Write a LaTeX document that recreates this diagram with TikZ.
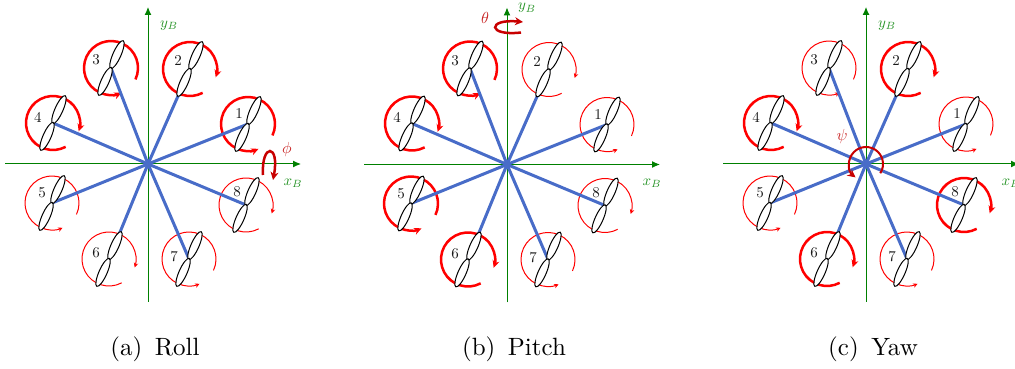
\documentclass[tikz,border=0pt]{standalone}
\usetikzlibrary{arrows.meta,shapes.geometric}
\definecolor{armblue}{RGB}{72,108,200}
\definecolor{axgreen}{RGB}{0,128,0}
\definecolor{darkred}{RGB}{200,0,0}
\tikzset{
  x=1pt,y=1pt,
  axisline/.style={axgreen,line width=1pt,-{Latex[length=8pt,width=7pt]}},
  axlab/.style={text=axgreen!85!white,scale=1.5,inner sep=0pt},
  arm/.style={armblue,line width=3pt},
  blade/.style={draw=black,fill=white,ellipse,line width=1pt,outer sep=0pt,minimum width=30.5pt,minimum height=8pt,inner sep=0pt,rotate=66},
  num/.style={scale=1.5,inner sep=0pt,text=black!90},
  tk/.style={red,line width=2.5pt,-{Stealth[length=7.5pt,width=7pt]}},
  tn/.style={red,line width=1pt,-{Stealth[length=4.5pt,width=4.5pt]}},
  ann/.style={darkred,line width=2.5pt,-{Stealth[length=8pt,width=8pt]}},
  annlab/.style={text=red!75!black,opacity=.85,scale=1.6,inner sep=0pt},
  captionlab/.style={scale=2.5,inner sep=0pt},
}
\newcommand{\rotorarc}[7]{%
  \coordinate (#1h#2) at (#3,#4);
  \ifnum#6=0
    \draw[#7] (#1h#2) ++(-25:27) arc[start angle=-25,end angle=-67+360,radius=27];
  \else
    \draw[#7] (#1h#2) ++(-62:27) arc[start angle=-62,end angle=-378,radius=27];
  \fi
  \draw[arm] (#1c) -- (#1h#2);
}
\newcommand{\rotorblade}[4]{%
  \node[blade,anchor=west] (#1u#2) at ([shift={(66:-0.6)}]#1h#2) {};
  \node[blade,anchor=east] (#1d#2) at ([shift={(66:0.6)}]#1h#2) {};
  \node[num] (#1n#2) at ([shift={(#3,#4)}]#1h#2) {#2};
}
\newcommand{\fullpanel}[9]{%
  \coordinate (#1c) at (0,0);
  \coordinate (#1l) at (-143,0);
  \coordinate (#1r) at (153,0);
  \coordinate (#1b) at (0,-138);
  \coordinate (#1t) at (0,157);
  \draw[axisline] (#1l) -- (#1r);
  \draw[axisline] (#1b) -- (#1t);
  \rotorarc{#1}{1}{100}{40}{0}{0}{#2}
  \rotorarc{#1}{2}{42}{95}{0}{1}{#3}
  \rotorarc{#1}{3}{-37}{96}{0}{0}{#4}
  \rotorarc{#1}{4}{-95}{41}{0}{1}{#5}
  \rotorarc{#1}{5}{-96}{-39}{0}{0}{#6}
  \rotorarc{#1}{6}{-39}{-95}{0}{1}{#7}
  \rotorarc{#1}{7}{41}{-95}{0}{0}{#8}
  \rotorarc{#1}{8}{98}{-41}{0}{1}{#9}
  \rotorblade{#1}{1}{-9}{10}
  \rotorblade{#1}{2}{-12}{8}
  \rotorblade{#1}{3}{-15}{8}
  \rotorblade{#1}{4}{-15}{6}
  \rotorblade{#1}{5}{-10}{10}
  \rotorblade{#1}{6}{-13}{6}
  \rotorblade{#1}{7}{-15}{2}
  \rotorblade{#1}{8}{-9}{13}
}
\begin{document}
\begin{tikzpicture}
\useasboundingbox (0,0) rectangle (1015,369);
\clip (0,0) rectangle (1015,369);
% Roll
\begin{scope}[shift={(148,205)}]
  \fullpanel{a}{tk}{tk}{tk}{tk}{tn}{tn}{tn}{tn}
  \node[axlab] (aylab) at (21,138.5) {$y_B$};
  \node[axlab] (axlab) at (145,-19) {$x_B$};
  \coordinate (aphis) at (115,-11);
  \coordinate (aphie) at (125,-16);
  \draw[ann] (aphis) .. controls (113,21) and (132,21) .. (aphie);
  \node[annlab] (aphi) at (139,14) {$\phi$};
\end{scope}
% Pitch
\begin{scope}[shift={(507,204.5)}]
  \fullpanel{b}{tn}{tn}{tk}{tk}{tk}{tk}{tn}{tn}
  \node[axlab] (bylab) at (20,156.5) {$y_B$};
  \node[axlab] (bxlab) at (145,-19) {$x_B$};
  \coordinate (bths) at (14,132);
  \coordinate (bthe) at (16,142.5);
  \draw[ann] (bths) .. controls (-20,128) and (-20,146) .. (bthe);
  \node[annlab] (bth) at (-22,147) {$\theta$};
\end{scope}
% Yaw
\begin{scope}[shift={(866,205)}]
  \fullpanel{c}{tn}{tk}{tn}{tk}{tn}{tk}{tn}{tk}
  \node[axlab] (cylab) at (21,138.5) {$y_B$};
  \node[axlab] (cxlab) at (145,-19) {$x_B$};
  \draw[ann,line width=2pt] (cc) ++(-33:17) arc[start angle=-33,end angle=232,radius=17];
  \node[annlab] (cpsi) at (-24,27) {$\psi$};
\end{scope}
\node[captionlab] (capa) at (155,20) {(a)\hspace{0.5em}Roll};
\node[captionlab] (capb) at (514,20) {(b)\hspace{0.5em}Pitch};
\node[captionlab] (capc) at (873,20) {(c)\hspace{0.5em}Yaw};
\end{tikzpicture}
\end{document}
